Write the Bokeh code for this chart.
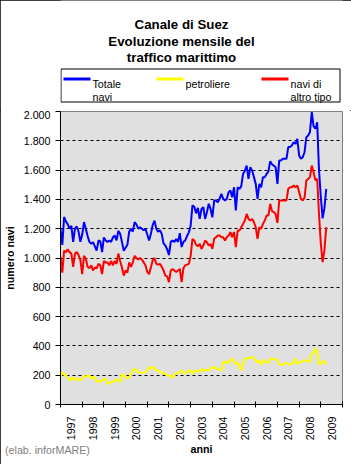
import math
from bokeh.plotting import figure
from bokeh.layouts import column
from bokeh.models import FixedTicker, Range1d, Div
from bokeh.core.properties import value
from bokeh.embed import file_html
from bokeh.resources import INLINE

# ---------------- data (monthly, Jan 1997 - Apr 2009) ----------------
years = list(range(1997, 2010))
year_labels = [str(y) for y in years]

totale_navi = [
    1200, 1090, 1280, 1250, 1230, 1200, 1220, 1110, 1200, 1215, 1180, 1110,  # 1997
    1160, 1245, 1200, 1150, 1110, 1097, 1108, 1080, 1050, 1119, 1115, 1040,  # 1998
    1140, 1120, 1110, 1120, 1110, 1140, 1155, 1120, 1185, 1165, 1110, 1050,  # 1999
    1070, 1090, 1180, 1200, 1180, 1245, 1230, 1200, 1210, 1200, 1190, 1200,  # 2000
    1160, 1120, 1165, 1225, 1255, 1200, 1180, 1190, 1165, 1100, 1085, 1060,  # 2001
    1020, 1110, 1120, 1110, 1130, 1110, 1170, 1075, 1110, 1120, 1150, 1175,  # 2002
    1220, 1360, 1350, 1305, 1342, 1267, 1335, 1347, 1267, 1313, 1370, 1335,  # 2003
    1278, 1392, 1392, 1381, 1404, 1438, 1404, 1392, 1404, 1449, 1460, 1415,  # 2004
    1483, 1324, 1483, 1472, 1490, 1574, 1597, 1631, 1540, 1620, 1597, 1552,  # 2005
    1506, 1404, 1506, 1483, 1552, 1552, 1574, 1590, 1660, 1640, 1630, 1620,  # 2006
    1506, 1666, 1666, 1677, 1677, 1677, 1757, 1757, 1768, 1791, 1779, 1814,  # 2007
    1700, 1677, 1688, 1722, 1825, 1836, 1860, 1996, 1900, 1882, 1927, 1600,  # 2008
    1420, 1270, 1340, 1472,                                                  # 2009
]

petroliere = [
    187, 221, 210, 198, 187, 164, 175, 187, 164, 175, 175, 164,
    175, 198, 187, 198, 198, 175, 187, 187, 153, 164, 153, 164,
    175, 175, 141, 146, 153, 153, 164, 170, 164, 153, 210, 198,
    187, 175, 187, 210, 232, 244, 232, 221, 216, 216, 216, 221,
    232, 255, 244, 260, 244, 232, 232, 221, 221, 210, 210, 198,
    198, 198, 182, 198, 214, 214, 221, 232, 221, 210, 221, 232,
    232, 210, 228, 232, 228, 221, 243, 237, 232, 237, 232, 250,
    250, 260, 244, 244, 237, 232, 289, 295, 282, 289, 305, 312,
    289, 277, 289, 255, 232, 280, 312, 316, 316, 316, 328, 318,
    300, 289, 300, 271, 305, 295, 289, 282, 312, 312, 310, 312,
    300, 273, 271, 271, 282, 282, 277, 273, 277, 289, 315, 277,
    282, 289, 300, 300, 300, 295, 289, 346, 350, 385, 360, 277,
    277, 295, 295, 271,
]

altro_tipo = [
    1010, 900, 1050, 1040, 1060, 1040, 1030, 940, 1030, 1040, 1020, 985,
    890, 1015, 995, 940, 930, 950, 915, 935, 930, 960, 950, 890,
    980, 970, 970, 950, 980, 950, 980, 960, 1030, 980, 935, 880,
    915, 900, 970, 940, 970, 1015, 1000, 990, 1000, 990, 970, 950,
    905, 890, 935, 985, 1000, 960, 955, 960, 940, 915, 880, 875,
    835, 915, 925, 915, 905, 915, 925, 835, 930, 950, 955, 960,
    1015, 1130, 1120, 1090, 1080, 1096, 1062, 1085, 1119, 1108, 1085, 1096,
    1062, 1131, 1142, 1153, 1153, 1142, 1142, 1119, 1142, 1153, 1176, 1142,
    1176, 1074, 1187, 1187, 1210, 1233, 1256, 1301, 1267, 1256, 1267, 1244,
    1210, 1131, 1210, 1199, 1233, 1256, 1290, 1290, 1370, 1320, 1313, 1300,
    1240, 1393, 1393, 1393, 1393, 1393, 1472, 1483, 1483, 1495, 1483, 1495,
    1450, 1404, 1393, 1410, 1529, 1540, 1552, 1631, 1586, 1530, 1540, 1300,
    1100, 972, 1050, 1211,
]

series_names = ["Totale", "petroliere", "navi di"]
series_names_2 = ["navi", "", "altro tipo"]
series_colors = ["#0000FF", "#FFFF00", "#FF0000"]

title_lines = ["Canale di Suez", "Evoluzione mensile del", "traffico marittimo"]
source_text = "(elab. inforMARE)"

y_ticks = [0, 200, 400, 600, 800, 1000, 1200, 1400, 1600, 1800, 2000]
y_tick_labels = ["0", "200", "400", "600", "800", "1.000", "1.200",
                 "1.400", "1.600", "1.800", "2.000"]

months = [1997 + i / 12.0 for i in range(len(totale_navi))]

FONT = "Liberation Sans"
W, H = 351, 464
HEAD_H = 110
MAIN_H = H - HEAD_H
FL, FR = 60, 9            # frame left / right border (canvas px)
FRAME_TOP, FRAME_BOT = 111, 404

# ---------------- header: title + legend (canvas-pixel data coords) ----------------
head = figure(width=W, height=HEAD_H, output_backend="svg", toolbar_location=None,
              x_range=Range1d(FL, W - FR), y_range=Range1d(HEAD_H, 0),
              min_border_left=FL, min_border_right=FR,
              min_border_top=0, min_border_bottom=0,
              x_axis_location=None, y_axis_location=None, title=None,
              background_fill_color="white", border_fill_color="white",
              outline_line_color=None)
head.grid.visible = False

head.text(x=[181, 181, 181], y=[24, 40.5, 57], text=title_lines,
          text_font=value(FONT), text_font_size=value("13.3px"),
          text_font_style="bold", text_align="center",
          text_baseline="alphabetic", text_color="black")

head.quad(left=[60.5], right=[339.5], top=[68.5], bottom=[101.5],
          fill_color="white", line_color="black", line_width=1)
seg_x0 = [63, 156, 261]
head.segment(x0=seg_x0, y0=[78.5] * 3, x1=[x + 27 for x in seg_x0], y1=[78.5] * 3,
             line_color=series_colors, line_width=3, line_cap="butt")
txt_x = [x + 29 for x in seg_x0]
head.text(x=txt_x, y=[83] * 3, text=series_names,
          text_font=value(FONT), text_font_size=value("10.7px"),
          text_align="left", text_baseline="alphabetic", text_color="black")
head.text(x=txt_x, y=[96.5] * 3, text=series_names_2,
          text_font=value(FONT), text_font_size=value("10.7px"),
          text_align="left", text_baseline="alphabetic", text_color="black")

# ---------------- main chart ----------------
p = figure(width=W, height=MAIN_H, output_backend="svg", toolbar_location=None,
           x_range=Range1d(1997, 2010), y_range=Range1d(0, 2000),
           min_border_left=FL, min_border_right=FR,
           min_border_top=FRAME_TOP - HEAD_H,
           min_border_bottom=H - FRAME_BOT,
           title=None,
           background_fill_color="#E0E0E0", border_fill_color="white")
p.outline_line_color = "#808080"
p.outline_line_width = 1

for ys, c in zip([totale_navi, petroliere, altro_tipo], series_colors):
    p.line(months, ys, line_color=c, line_width=2)

xa = p.xaxis[0]
xa.ticker = FixedTicker(ticks=[y + 0.5 for y in years],
                        minor_ticks=list(range(1997, 2011)))
xa.major_label_overrides = {y + 0.5: s for y, s in zip(years, year_labels)}
xa.major_tick_line_color = None
xa.major_tick_in = 0
xa.major_tick_out = 0
xa.minor_tick_in = 3
xa.minor_tick_out = 3
xa.minor_tick_line_color = "black"
xa.major_label_orientation = math.pi / 2
xa.major_label_standoff = 9
xa.major_label_text_font = FONT
xa.major_label_text_font_size = "10.7px"
xa.major_label_text_color = "black"
xa.axis_line_color = "black"
xa.axis_label = "anni"
xa.axis_label_text_font = FONT
xa.axis_label_text_font_style = "bold"
xa.axis_label_text_font_size = "10.7px"
xa.axis_label_standoff = 0
xa.axis_label_text_color = "black"

ya = p.yaxis[0]
ya.ticker = FixedTicker(ticks=y_ticks)
ya.major_label_overrides = {t: s for t, s in zip(y_ticks, y_tick_labels)}
ya.major_tick_in = 0
ya.major_tick_out = 5
ya.major_tick_line_color = "black"
ya.minor_tick_line_color = None
ya.major_label_standoff = 5
ya.major_label_text_font = FONT
ya.major_label_text_font_size = "10.7px"
ya.major_label_text_color = "black"
ya.axis_line_color = "black"
ya.axis_label = "numero navi"
ya.axis_label_text_font = FONT
ya.axis_label_text_font_style = "bold"
ya.axis_label_text_font_size = "10.7px"
ya.axis_label_standoff = 5
ya.axis_label_text_color = "black"

p.xgrid.visible = False
p.ygrid.ticker = FixedTicker(ticks=y_ticks[1:-1])
p.ygrid.grid_line_color = "black"
p.ygrid.grid_line_dash = "3 3"
p.ygrid.grid_line_width = 1

# ---------------- source note (overlaps the bottom strip of the chart) ----------------
SRC_H = 22
src = Div(text=('<div style="padding-left:5px;font-family:\'Liberation Sans\';'
                'font-size:10.7px;line-height:12px;color:#808080;white-space:nowrap">'
                + source_text + '</div>'),
          width=160, height=SRC_H, margin=(-SRC_H, 0, 0, 0))

layout = column(head, p, src, spacing=0,
                styles={"outline": "1px solid black", "outline-offset": "-1px"})

open("out.html", "w").write(file_html(layout, INLINE))
